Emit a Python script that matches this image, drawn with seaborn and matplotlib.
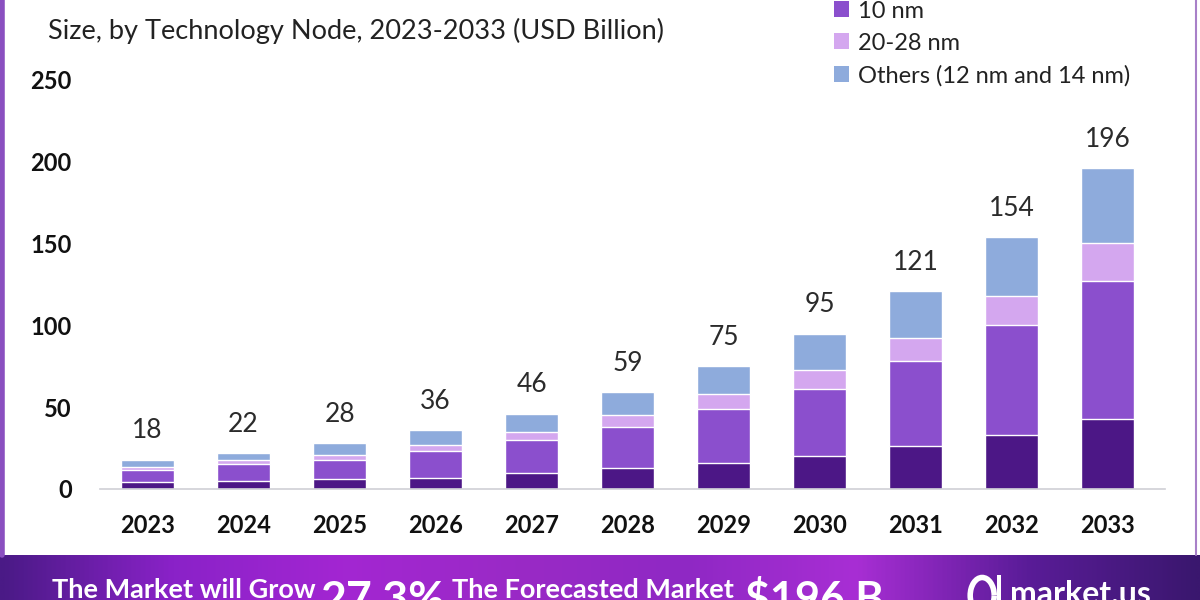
import numpy as np
import pandas as pd
import matplotlib
matplotlib.use('Agg')
import matplotlib.pyplot as plt
from matplotlib.patches import Patch, Arc, Rectangle
from matplotlib.colors import LinearSegmentedColormap
import seaborn as sns

# chart values (USD Billion)
years = ["2023", "2024", "2025", "2026", "2027", "2028", "2029", "2030", "2031", "2032", "2033"]
nm7 = [4, 5, 6, 7, 10, 13, 16, 20, 26, 33, 43]
nm10 = [7.5, 10, 12, 16, 20, 25, 33, 41, 52, 67, 84]
nm20_28 = [2, 2.5, 2.5, 4, 5, 7, 9, 12, 14, 18, 23]
others = [4.5, 4.5, 7.5, 9, 11, 14, 17, 22, 29, 36, 46]
totals = [18, 22, 28, 36, 46, 59, 75, 95, 121, 154, 196]
series_names = ["7 nm", "10 nm", "20-28 nm", "Others (12 nm and 14 nm)"]
series_colors = ["#4c1786", "#8b4fcd", "#d4a7ef", "#8eabdc"]

sns.set_theme(style="white")
plt.rcParams['font.family'] = ['Lato', 'DejaVu Sans']

df = pd.DataFrame({"year": years, "7 nm": nm7, "10 nm": nm10,
                   "20-28 nm": nm20_28, "Others (12 nm and 14 nm)": others})
cum = df[series_names].cumsum(axis=1)

fig = plt.figure(figsize=(12, 6), dpi=100)
fig.patch.set_facecolor("white")
ax = fig.add_axes([0.083, 0.185, 0.888, 0.682])

# stacked bars: draw cumulative heights from the top layer down
for name, color in reversed(list(zip(series_names, series_colors))):
    sns.barplot(x=df["year"], y=cum[name], color=color, width=0.55,
                saturation=1, ax=ax, errorbar=None)

for i, t in enumerate(totals):
    ax.text(i, t + 10, f"{t}", ha="center", va="bottom", fontsize=19, color="#2b2b2b")

ax.set_xlim(-0.5, 10.6)
ax.set_ylim(0, 250)
ax.set_yticks([0, 50, 100, 150, 200, 250])
ax.set_xlabel("")
ax.set_ylabel("")
for s in ["top", "right", "left"]:
    ax.spines[s].set_visible(False)
ax.spines["bottom"].set_color("#cfcfd6")
ax.spines["bottom"].set_linewidth(1.2)
ax.tick_params(axis="both", length=0, labelsize=17, colors="#111111")
ax.tick_params(axis="y", pad=20)
ax.tick_params(axis="x", pad=18)
for lbl in ax.get_xticklabels() + ax.get_yticklabels():
    lbl.set_fontweight("bold")

# legend, top entry runs off the top edge as in the reference
handles = [Patch(facecolor=c, edgecolor="none") for c in series_colors]
fig.legend(handles, series_names, loc="upper left", bbox_to_anchor=(0.677, 1.088),
           frameon=False, fontsize=17, handlelength=0.65, handleheight=0.65,
           handletextpad=0.4, labelspacing=0.47, labelcolor="#222222")

# titles (main title mostly cut off at the top)
fig.text(0.04, 0.993, "Global Mobile AI Market", ha="left", va="bottom",
         fontsize=22, fontweight="bold", color="#9a9a9a")
fig.text(0.04, 0.948, "Size, by Technology Node, 2023-2033 (USD Billion)",
         ha="left", va="center", fontsize=19.5, color="#222222")

# purple side borders
fig.add_artist(plt.Line2D([0.002, 0.002], [0.075, 1], color="#8a4fc0", lw=4))
fig.add_artist(plt.Line2D([0.997, 0.997], [0.075, 1], color="#a880c8", lw=1.5))

# bottom banner with gradient
bax = fig.add_axes([0, 0, 1, 0.075])
cmap = LinearSegmentedColormap.from_list(
    "banner", ["#4a1a86", "#8a22c8", "#a326d2", "#9a2ac6", "#8f28c4", "#a82ed4", "#5a1c98", "#3a176e"])
grad = np.linspace(0, 1, 512).reshape(1, -1)
bax.imshow(grad, aspect="auto", cmap=cmap, extent=[0, 1, 0, 1])
bax.set_xlim(0, 1)
bax.set_ylim(0, 1)
bax.axis("off")
bax.text(0.043, -0.05, "The Market will Grow", ha="left", va="bottom",
         fontsize=19.5, fontweight="bold", color="white")
bax.text(0.267, -0.45, "27.3%", ha="left", va="bottom",
         fontsize=32, fontweight="bold", color="white")
bax.text(0.377, -0.05, "The Forecasted Market", ha="left", va="bottom",
         fontsize=19.5, fontweight="bold", color="white")
bax.text(0.621, -0.45, "$196 B", ha="left", va="bottom",
         fontsize=31, fontweight="bold", color="white")
# market.us logo mark drawn as simple shapes
bax.add_patch(Arc((0.8185, 0.1), 0.02, 0.8, theta1=20, theta2=340, lw=4, color="white"))
bax.add_patch(Rectangle((0.8305, -0.1), 0.004, 0.65, color="white", lw=0))
bax.text(0.842, -0.2, "market.us", ha="left", va="bottom",
         fontsize=23, fontweight="bold", color="white")

fig.savefig("out.png", dpi=100)
